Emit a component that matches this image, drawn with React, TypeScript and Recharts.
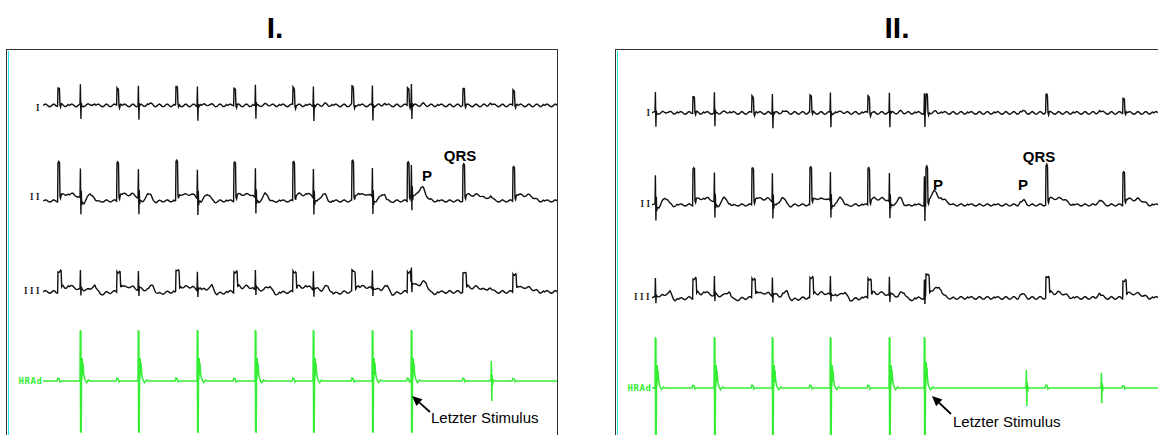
import { LineChart, Line, XAxis, YAxis, ReferenceLine } from 'recharts';

type Knot = [number, number]; // [ms relative to the event, mV]
type Sample = { t: number; v: number };
type Lane = 'I' | 'II' | 'III' | 'A';

// ---- event times in ms from the start of each strip ----
const STRIP1_STIM = [370, 950, 1540, 2120, 2700, 3290, 3680];
const STRIP1_QRS = [150, 740, 1330, 1910, 2500, 3090, 3645, 4200, 4700];
const STRIP1_QRS_GAIN = [1, 1, 1, 1, 1, 1, 1, 0.92, 0.88];
const STRIP1_SINUS_P = [4470];
const STRIP1_ATRIAL = [4480];
const STRIP1_ATRIAL_GAIN = [1.05];

const STRIP2_STIM = [30, 620, 1200, 1780, 2370, 2720];
const STRIP2_QRS = [410, 1000, 1580, 2160, 2740, 3940, 4710];
const STRIP2_QRS_GAIN = [0.95, 0.95, 0.95, 0.95, 1, 1, 0.85];
const STRIP2_SINUS_P = [3710, 4480];
const STRIP2_ATRIAL = [3740, 4490];
const STRIP2_ATRIAL_GAIN = [0.95, 0.8];

// ---- waveform shapes per lead ----
const STIM_I: Knot[] = [[0, 0], [4, 1.0], [9, -0.72], [13, 0.1], [18, -0.05], [30, 0], [90, 0.02], [120, 0.07], [150, 0.02], [180, 0]];
const QRS_I: Knot[] = [[-20, 0], [-4, 0.03], [0, 0.92], [9, 0.9], [14, 0.85], [20, 0], [26, -0.12], [34, 0.03], [50, 0]];
const P_I: Knot[] = [[-40, 0], [0, 0.08], [40, 0]];

const STIM_II: Knot[] = [[0, 0], [4, 1.45], [9, -0.8], [13, 0.4], [17, -0.3], [22, -0.1], [40, -0.1], [70, 0.15], [100, 0.35], [125, 0.3], [150, 0.05], [180, -0.05], [230, 0]];
const QRS_II: Knot[] = [[-20, 0], [-4, 0], [0, 1.95], [8, 2.0], [15, 1.92], [20, 0.2], [26, 0.1], [34, 0.3], [60, 0.35], [110, 0.3], [150, 0.35], [190, 0.25], [215, 0.15], [260, 0]];
const P_II: Knot[] = [[-50, 0], [-20, 0.15], [10, 0.22], [40, 0.05], [60, 0]];

const STIM_III: Knot[] = [[0, 0], [4, 0.95], [9, -0.3], [13, 0.15], [20, 0.1], [50, 0.12], [90, 0.1], [120, 0.25], [150, 0.3], [175, 0.05], [200, -0.1], [260, -0.05], [330, 0]];
const QRS_III: Knot[] = [[-20, 0], [-4, 0], [0, 1.05], [12, 1.0], [26, 1.05], [31, 1.0], [37, 0.2], [48, 0.3], [80, 0.22], [120, 0.28], [170, 0.22], [210, 0.12], [260, 0]];
const P_III: Knot[] = [[-50, 0], [-10, 0.2], [20, 0.1], [50, 0]];

const STIM_A: Knot[] = [[0, 0], [3, 2.55], [6, -2.55], [9, 2.5], [12, -2.6], [15, 0], [18, 0.1], [22, 1.15], [26, 0.3], [30, 0.9], [36, 0.4], [44, 0.15], [56, 0], [66, -0.08], [85, 0.05], [100, 0]];
const FAR_A: Knot[] = [[-10, 0], [0, 0.15], [10, 0.12], [20, -0.05], [30, 0]];
const ATRIAL_A: Knot[] = [[-10, 0], [0, 0.1], [4, 0.95], [8, -0.95], [12, 0.3], [16, -0.2], [22, 0.05], [30, 0]];

// baseline ripple, sampled every RIPPLE_STEP ms
const RIPPLE_MV = [0, 0.04, 0.07, 0.05, -0.01, -0.05, -0.06, -0.02, 0.04, 0.07, 0.03, -0.03, -0.06, -0.04, 0.01, 0.06, 0.06, 0.01, -0.05, -0.05, -0.01, 0.05];
const RIPPLE_STEP = 12;

const INK = '#111';
const GREEN = '#33ee33';
const TOP = 49;
const BOTTOM = 435;
const MV_PX = 20;
const LANES: Lane[] = ['I', 'II', 'III', 'A'];

const at = (tpl: Knot[], dt: number) => {
  if (dt <= tpl[0][0] || dt >= tpl[tpl.length - 1][0]) return 0;
  for (let i = 1; i < tpl.length; i++) {
    if (dt <= tpl[i][0]) {
      const [t0, v0] = tpl[i - 1];
      const [t1, v1] = tpl[i];
      return v0 + ((v1 - v0) * (dt - t0)) / (t1 - t0);
    }
  }
  return 0;
};

const rippleAt = (t: number) => {
  const n = RIPPLE_MV.length;
  const i = Math.floor(t / RIPPLE_STEP);
  const f = t / RIPPLE_STEP - i;
  return RIPPLE_MV[i % n] * (1 - f) + RIPPLE_MV[(i + 1) % n] * f;
};

type Ev = { t: number; tpl: Knot[]; g: number };

const events = (times: number[], tpl: Knot[], gains?: number[]): Ev[] =>
  times.map((t, i) => ({ t, tpl, g: gains ? gains[i] : 1 }));

function buildTrace(ev: Ev[], end: number, ripple: number): Sample[] {
  const knots = new Set<number>();
  for (let t = 0; t <= end; t += RIPPLE_STEP) knots.add(t);
  knots.add(end);
  ev.forEach((e) =>
    e.tpl.forEach(([dt]) => {
      const t = e.t + dt;
      if (t >= 0 && t <= end) knots.add(t);
    })
  );
  return [...knots]
    .sort((a, b) => a - b)
    .map((t) => ({
      t,
      v: ev.reduce((s, e) => s + e.g * at(e.tpl, t - e.t), 0) + ripple * rippleAt(t),
    }));
}

interface StripCfg {
  left: number;
  width: number;
  end: number;
  stim: number[];
  qrs: number[];
  qrsGain: number[];
  sinusP: number[];
  atrial: number[];
  atrialGain: number[];
  base: Record<Lane, number>;
  arrow: { x: number; y: number }[];
}

const STRIP1: StripCfg = {
  left: 43,
  width: 514,
  end: 5140,
  stim: STRIP1_STIM,
  qrs: STRIP1_QRS,
  qrsGain: STRIP1_QRS_GAIN,
  sinusP: STRIP1_SINUS_P,
  atrial: STRIP1_ATRIAL,
  atrialGain: STRIP1_ATRIAL_GAIN,
  base: { I: 105.5, II: 201, III: 292, A: 381 },
  arrow: [{ x: 3870, y: -1.55 }, { x: 3690, y: -0.75 }],
};

const STRIP2: StripCfg = {
  left: 652,
  width: 506,
  end: 5060,
  stim: STRIP2_STIM,
  qrs: STRIP2_QRS,
  qrsGain: STRIP2_QRS_GAIN,
  sinusP: STRIP2_SINUS_P,
  atrial: STRIP2_ATRIAL,
  atrialGain: STRIP2_ATRIAL_GAIN,
  base: { I: 113, II: 205, III: 298, A: 388 },
  arrow: [{ x: 2990, y: -1.3 }, { x: 2800, y: -0.4 }],
};

function traces(s: StripCfg): Record<Lane, Sample[]> {
  return {
    I: buildTrace([...events(s.stim, STIM_I), ...events(s.qrs, QRS_I, s.qrsGain), ...events(s.sinusP, P_I)], s.end, 1),
    II: buildTrace([...events(s.stim, STIM_II), ...events(s.qrs, QRS_II, s.qrsGain), ...events(s.sinusP, P_II)], s.end, 0.8),
    III: buildTrace([...events(s.stim, STIM_III), ...events(s.qrs, QRS_III, s.qrsGain), ...events(s.sinusP, P_III)], s.end, 1),
    A: buildTrace([...events(s.stim, STIM_A), ...events(s.qrs, FAR_A, s.qrsGain), ...events(s.atrial, ATRIAL_A, s.atrialGain)], s.end, 0.08),
  };
}

const Arrow = (p: any) => {
  const { x1, y1, x2, y2 } = p;
  const ang = Math.atan2(y2 - y1, x2 - x1);
  const len = 10;
  const half = 4.5;
  const bx = x2 - len * Math.cos(ang);
  const by = y2 - len * Math.sin(ang);
  const px = -Math.sin(ang) * half;
  const py = Math.cos(ang) * half;
  return (
    <g>
      <line x1={x1} y1={y1} x2={bx} y2={by} stroke="#000" strokeWidth={1.8} />
      <polygon points={`${x2},${y2} ${bx + px},${by + py} ${bx - px},${by - py}`} fill="#000" />
    </g>
  );
};

function Strip({ cfg }: { cfg: StripCfg }) {
  const data = traces(cfg);
  const dom = (b: number): [number, number] => [-(BOTTOM - b) / MV_PX, (b - TOP) / MV_PX];
  return (
    <div style={{ position: 'absolute', left: cfg.left, top: TOP }}>
      <LineChart width={cfg.width} height={BOTTOM - TOP} margin={{ top: 0, right: 0, bottom: 0, left: 0 }}>
        <XAxis dataKey="t" type="number" domain={[0, cfg.end]} hide allowDataOverflow />
        {LANES.map((k) => (
          <YAxis key={k} yAxisId={k} type="number" domain={dom(cfg.base[k])} hide allowDataOverflow />
        ))}
        {LANES.map((k) => (
          <Line
            key={k}
            yAxisId={k}
            data={data[k]}
            dataKey="v"
            type="linear"
            stroke={k === 'A' ? GREEN : INK}
            strokeWidth={k === 'A' ? 1.5 : 1.4}
            dot={false}
            activeDot={false}
            isAnimationActive={false}
          />
        ))}
        <ReferenceLine yAxisId="A" segment={cfg.arrow} shape={Arrow} ifOverflow="visible" />
      </LineChart>
    </div>
  );
}

const SANS = 'Liberation Sans, Arial, sans-serif';
const SERIF = 'Liberation Serif, Times New Roman, serif';
const MONO = 'DejaVu Sans Mono, monospace';

export default function App() {
  return (
    <div style={{ position: 'absolute', left: 0, top: 0, width: 1158, height: 435, overflow: 'hidden', background: '#fff' }}>
      {/* strip frames */}
      <div style={{ position: 'absolute', left: 6, top: 49, width: 552, height: 420, boxSizing: 'border-box', borderTop: '1.5px solid #333', borderLeft: '1.5px solid #333', borderRight: '1.5px solid #333' }} />
      <div style={{ position: 'absolute', left: 7.5, top: 50.5, width: 1.5, height: 400, background: '#22e4ee' }} />
      <div style={{ position: 'absolute', left: 615, top: 49, width: 600, height: 420, boxSizing: 'border-box', borderTop: '1.5px solid #333', borderLeft: '1.5px solid #333' }} />
      <div style={{ position: 'absolute', left: 616.5, top: 50.5, width: 1.5, height: 400, background: '#22e4ee' }} />

      <Strip cfg={STRIP1} />
      <Strip cfg={STRIP2} />

      <svg width={1158} height={435} style={{ position: 'absolute', left: 0, top: 0, pointerEvents: 'none' }}>
        <text x={275} y={38} textAnchor="middle" fontFamily={SANS} fontWeight="bold" fontSize={30}>I.</text>
        <text x={897} y={38} textAnchor="middle" fontFamily={SANS} fontWeight="bold" fontSize={30}>II.</text>

        <g fontFamily={SERIF} fontSize={10.5} fill="#000" stroke="#000" strokeWidth={0.2} textAnchor="end" letterSpacing={2.5}>
          <text x={42} y={110.5}>I</text>
          <text x={42} y={200}>II</text>
          <text x={42} y={293.5}>III</text>
          <text x={652.5} y={116}>I</text>
          <text x={652.5} y={207}>II</text>
          <text x={652} y={300}>III</text>
        </g>
        <g fontFamily={MONO} fontWeight="bold" fontSize={9} fill={GREEN} textAnchor="end" letterSpacing={0.6}>
          <text x={42.5} y={384}>HRAd</text>
          <text x={651.5} y={391}>HRAd</text>
        </g>

        <g fontFamily={SANS} fontWeight="bold" fontSize={15} textAnchor="middle" fill="#000">
          <text x={427} y={180.5}>P</text>
          <text x={460} y={160.5}>QRS</text>
          <text x={938} y={189.5}>P</text>
          <text x={1023} y={189.5}>P</text>
          <text x={1039} y={161.5}>QRS</text>
        </g>
        <g fontFamily={SANS} fontSize={15} fill="#000">
          <text x={431} y={423}>Letzter Stimulus</text>
          <text x={953} y={427}>Letzter Stimulus</text>
        </g>
      </svg>
    </div>
  );
}
